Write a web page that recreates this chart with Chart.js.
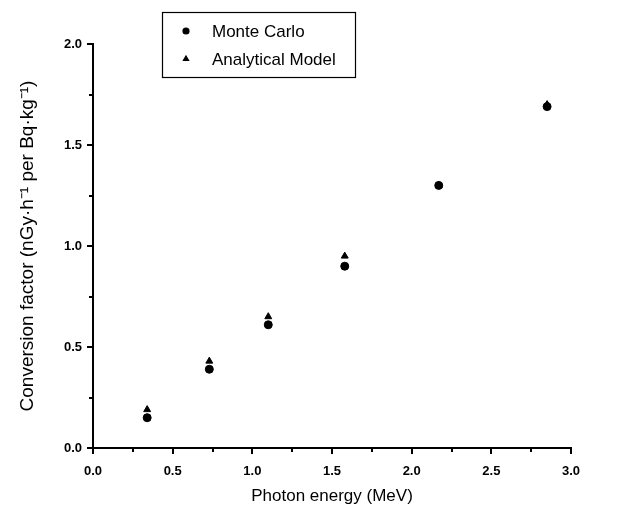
<!DOCTYPE html>
<html>
<head>
<meta charset="utf-8">
<script src="https://cdn.jsdelivr.net/npm/chart.js@4.4.1/dist/chart.umd.min.js"></script>
<style>
html,body{margin:0;padding:0;background:#fff;}
#wrap{width:625px;height:507px;position:relative;}
</style>
</head>
<body>
<div id="wrap"><canvas id="c" width="625" height="507"></canvas></div>
<script>
// Data
const energies = [0.34, 0.73, 1.10, 1.58, 2.17, 2.85];
const monteCarlo = [0.15, 0.39, 0.61, 0.90, 1.30, 1.69];
const analytical = [0.19, 0.43, 0.65, 0.95, 1.30, 1.70];
const seriesNames = ['Monte Carlo', 'Analytical Model'];
const xTickLabels = ['0.0','0.5','1.0','1.5','2.0','2.5','3.0'];
const yTickLabels = ['0.0','0.5','1.0','1.5','2.0'];

const toPoints = (xs, ys) => xs.map((x, i) => ({x: x, y: ys[i]}));
const isMajor = v => Math.abs(v * 2 - Math.round(v * 2)) < 1e-6;
const FONT = '"Liberation Sans", Arial, sans-serif';

const tickPlugin = {
  id: 'customTicks',
  afterDraw(chart) {
    const ctx = chart.ctx;
    ctx.save();
    ctx.strokeStyle = '#000';
    ctx.lineWidth = 2;
    const xs = chart.scales.x, ys = chart.scales.y;
    const yBase = chart.chartArea.bottom, xBase = chart.chartArea.left;
    xs.ticks.forEach(t => {
      const px = Math.round(xs.getPixelForValue(t.value));
      const major = isMajor(t.value);
      ctx.beginPath();
      ctx.moveTo(px, yBase - 1);
      ctx.lineTo(px, yBase + (major ? 6 : 4));
      ctx.stroke();
    });
    ys.ticks.forEach(t => {
      const py = Math.round(ys.getPixelForValue(t.value));
      const major = isMajor(t.value);
      ctx.beginPath();
      ctx.moveTo(xBase + 1, py);
      ctx.lineTo(xBase - (major ? 6 : 4), py);
      ctx.stroke();
    });
    // legend box
    const lx = 162, ly = 12, lw = 193, lh = 65;
    ctx.lineWidth = 1.2;
    ctx.strokeRect(lx + 0.5, ly + 0.5, lw, lh);
    ctx.font = '17px ' + FONT;
    ctx.textBaseline = 'middle';
    chart.data.datasets.forEach((ds, i) => {
      const cy = ly + 19 + i * 28;
      ctx.fillStyle = '#000';
      Chart.helpers.drawPoint(ctx, {pointStyle: ds.pointStyle, radius: 3, borderWidth: 1}, 186, cy);
      ctx.fillStyle = '#000';
      ctx.fillText(ds.label, 212, cy + 1);
    });
    ctx.restore();
  }
};

new Chart(document.getElementById('c'), {
  type: 'scatter',
  data: {
    datasets: [
      {label: seriesNames[0], data: toPoints(energies, monteCarlo), pointStyle: 'circle',
       pointRadius: 4, backgroundColor: '#000', borderColor: '#000', borderWidth: 1},
      {label: seriesNames[1], data: toPoints(energies, analytical), pointStyle: 'triangle',
       pointRadius: 4, backgroundColor: '#000', borderColor: '#000', borderWidth: 1}
    ]
  },
  options: {
    responsive: false,
    animation: false,
    devicePixelRatio: 1,
    layout: {padding: {left: 0, top: 44, right: 54, bottom: 0}},
    plugins: {legend: {display: false}, tooltip: {enabled: false}},
    scales: {
      x: {
        type: 'linear', min: 0, max: 3,
        afterFit: s => { s.height = 59; },
        grid: {display: false, drawTicks: false},
        border: {display: true, color: '#000', width: 2},
        ticks: {
          stepSize: 0.25, autoSkip: false, padding: 16, color: '#000',
          font: {family: FONT, size: 13, weight: 'bold'},
          maxRotation: 0,
          callback: v => isMajor(v) ? xTickLabels[Math.round(v * 2)] : ''
        },
        title: {display: true, text: 'Photon energy (MeV)', color: '#000',
          font: {family: FONT, size: 17}, padding: {top: 0, bottom: 0}}
      },
      y: {
        type: 'linear', min: 0, max: 2,
        afterFit: s => { s.width = 93; },
        grid: {display: false, drawTicks: false},
        border: {display: true, color: '#000', width: 2},
        ticks: {
          stepSize: 0.25, autoSkip: false, padding: 11, color: '#000',
          font: {family: FONT, size: 13, weight: 'bold'},
          callback: v => isMajor(v) ? yTickLabels[Math.round(v * 2)] : ''
        },
        title: {display: true, text: 'Conversion factor (nGy·h⁻¹ per Bq·kg⁻¹)', color: '#000',
          font: {family: FONT, size: 19}, padding: {top: 16, bottom: 0}}
      }
    }
  },
  plugins: [tickPlugin]
});
</script>
</body>
</html>
